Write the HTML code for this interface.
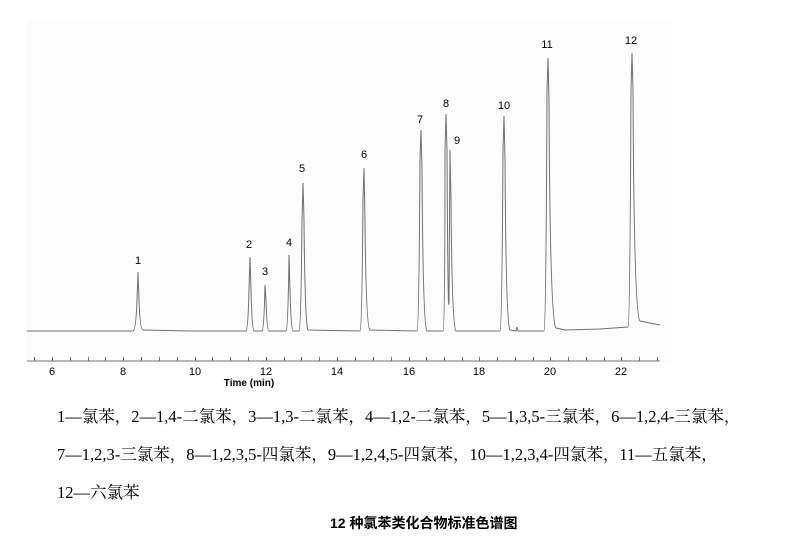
<!DOCTYPE html>
<html><head><meta charset="utf-8"><style>
body{margin:0;background:#fff;width:787px;height:543px;overflow:hidden;position:relative;font-family:"Liberation Serif","Noto Serif CJK SC",serif;}
.c{position:absolute;left:57px;font-size:16.5px;color:#000;white-space:nowrap;}
</style></head><body>
<svg width="787" height="400" style="position:absolute;left:0;top:0" xmlns="http://www.w3.org/2000/svg">
<rect x="27" y="20" width="645" height="345" fill="#fcfcfc"/>
<g fill="none" stroke="#707070" stroke-width="1">
<path d="M27 331 L133 331 Q136 330 137 300 L138 272 L139 300 Q140 330 143 330 L190 331 L246 331 Q248 330 249 290 L250 257 L251 290 Q252 330 254 331 L262 331 Q264 330 265 285 L266 300 Q267 331 269 331 L286 331 Q288 330 289 255 L290 290 Q291 330 293 331 L299 331 Q301 330 302 220 L303 183 L304 220 Q305 325 308 330 L360 331 Q362 330 363 200 L364 168 L365 220 Q366 328 370 330 L417 331 Q419 330 420 160 L421 130 L422 170 Q423 328 427 331 L443 331 Q445 330 445 150 L446 114 L447 150 Q448 330 449 300 L450 150 L451 200 Q452 328 456 331 L500 331 Q502 330 503 150 L504 116 L505 160 Q506 326 510 330 L516 331 L517 327 L518 331 L544 331 Q546 330 547 90 L548 58 L549 100 Q550 322 556 328 L565 330 L600 329 L628 327 Q630 326 631 90 L632 53 L633 90 Q634 316 640 321 L650 323 L660 325"/>
<path d="M27 361 L660 361"/>
</g>
<g font-family="Liberation Sans, sans-serif" font-size="11" fill="#000" text-anchor="middle">
<text x="138" y="264">1</text><text x="249" y="248">2</text><text x="265" y="275">3</text><text x="289" y="246">4</text><text x="302" y="172">5</text><text x="364" y="158">6</text><text x="420" y="123">7</text><text x="446" y="107">8</text><text x="457" y="144">9</text><text x="504" y="109">10</text><text x="547" y="48">11</text><text x="631" y="44">12</text>
<text x="52" y="375">6</text><text x="123" y="375">8</text><text x="195" y="375">10</text><text x="266" y="375">12</text><text x="337" y="375">14</text><text x="409" y="375">16</text><text x="479" y="375">18</text><text x="550" y="375">20</text><text x="621" y="375">22</text>
<text x="249" y="386" font-size="10" font-weight="bold">Time (min)</text>
</g>
<g stroke="#707070" stroke-width="1">
<path d="M34.5 361v-4M52.5 361v-4M70.5 361v-4M88.5 361v-4M105.5 361v-4M123.5 361v-4M141.5 361v-4M159.5 361v-4M177.5 361v-4M195.5 361v-4M212.5 361v-4M230.5 361v-4M248.5 361v-4M266.5 361v-4M284.5 361v-4M301.5 361v-4M319.5 361v-4M337.5 361v-4M355.5 361v-4M373.5 361v-4M391.5 361v-4M409.5 361v-4M426.5 361v-4M444.5 361v-4M462.5 361v-4M479.5 361v-4M497.5 361v-4M515.5 361v-4M533.5 361v-4M550.5 361v-4M568.5 361v-4M586.5 361v-4M604.5 361v-4M621.5 361v-4M639.5 361v-4M657.5 361v-4"/>
</g>
</svg>
<div class="c" style="top:403px">1—氯苯，2—1,4-二氯苯，3—1,3-二氯苯，4—1,2-二氯苯，5—1,3,5-三氯苯，6—1,2,4-三氯苯，</div>
<div class="c" style="top:441px">7—1,2,3-三氯苯，8—1,2,3,5-四氯苯，9—1,2,4,5-四氯苯，10—1,2,3,4-四氯苯，11—五氯苯，</div>
<div class="c" style="top:479px">12—六氯苯</div>
<div class="c" style="top:513px;left:330px;font-size:14px;font-weight:bold;font-family:'Liberation Sans','Noto Sans CJK SC',sans-serif">12 种氯苯类化合物标准色谱图</div>
</body></html>
